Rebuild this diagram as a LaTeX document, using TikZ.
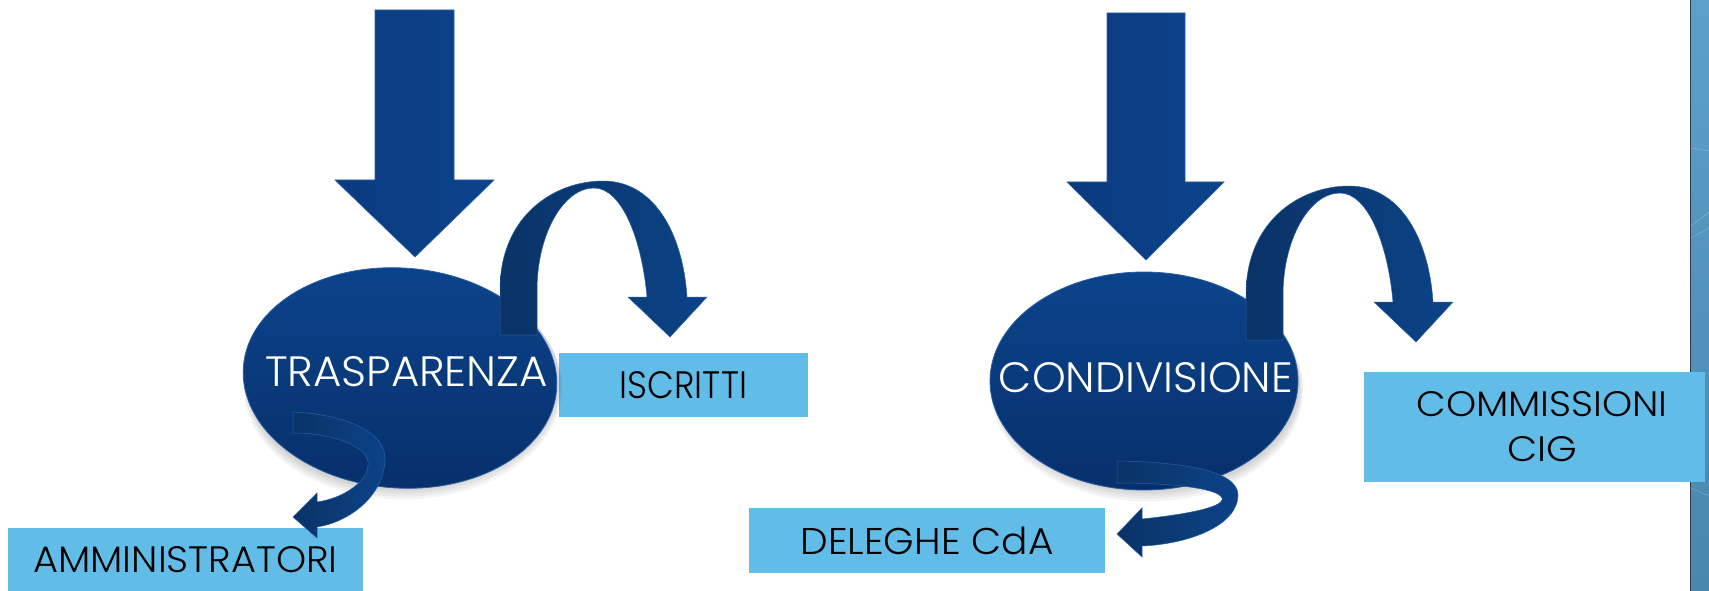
\documentclass[tikz,border=0pt]{standalone}
\usepackage{fontspec}
\setmainfont{Poppins Light}
\usetikzlibrary{shapes.geometric}
\definecolor{navy}{HTML}{0A3A7E}
\definecolor{navyD}{HTML}{07306B}
\definecolor{navyL}{HTML}{0B448C}
\definecolor{ribD}{HTML}{0A3366}
\definecolor{ribL}{HTML}{0B4387}
\definecolor{boxblue}{HTML}{62BCE8}
\definecolor{rim}{HTML}{2A5EA6}
\definecolor{strip}{HTML}{5CA0CA}
\definecolor{stripD}{HTML}{4A86AD}
\definecolor{stripline}{HTML}{2E3A46}
\newcommand{\fittxt}[3]{\resizebox{#1pt}{#2pt}{#3}}
\tikzset{
  oval/.style={ellipse, inner sep=0, top color=navyL, bottom color=navyD, draw=rim, line width=0.8pt},
  ovaltext/.style={text=white, inner sep=0},
  lbox/.style={rectangle, fill=boxblue, inner sep=0, text=black},
  bigarrow/.style={left color=navy, right color=navyL, draw=rim, line width=0.6pt},
  ribbon/.style={left color=ribD, right color=ribL, draw=rim, line width=0.5pt},
  softshadow/.style={fill=black, opacity=0.045},
  pics/uarc/.style={code={
    \path[ribbon] (500,335) -- (500,290) .. controls (500,215) and (555,181) .. (603,181)
      .. controls (655,181) and (683,235) .. (687,297) -- (707,297) -- (670,337) -- (628,297) -- (647,297)
      .. controls (642,240) and (622,188) .. (594,188) .. controls (563,188) and (537,235) .. (537,290)
      -- (537,335) -- cycle;
  }}
}
\begin{document}
\begin{tikzpicture}[x=1pt,y=-1pt]
\useasboundingbox (0,0) rectangle (1709,591);
% right strip
\fill[top color=strip, bottom color=stripD] (1690,0) rectangle (1709,591);
\draw[stripline, line width=1.5pt] (1690.5,0) -- (1690.5,591);
\draw[white, opacity=0.25, line width=0.6pt] (1691,148) -- (1709,151);
\draw[white, opacity=0.25, line width=0.6pt] (1691,226) -- (1709,212);
\draw[white, opacity=0.2, line width=0.6pt] (1691,238) -- (1709,228);
\draw[white, opacity=0.2, line width=0.6pt] (1691,488) -- (1709,496);
% boxes
\node[lbox, minimum width=249pt, minimum height=64pt] (b1) at (683.5,385) {\fittxt{127}{27}{ISCRITTI}};
\node[lbox, minimum width=355pt, minimum height=63pt] (b2) at (185.5,559.5) {\fittxt{304}{26}{AMMINISTRATORI}};
\node[lbox, minimum width=356pt, minimum height=65pt] (b3) at (927,540.5) {\fittxt{253}{27.5}{DELEGHE CdA}};
\node[lbox, minimum width=341pt, minimum height=110pt] (b4) at (1534.5,427) {};
\node[inner sep=0, align=center, font=\fontsize{30}{45}\selectfont] (t4) at (1542,427)
  {\fittxt{251}{25}{COMMISSIONI}\\\fittxt{70}{25}{CIG}};
% soft shadows
\foreach \s in {3,6,9,12}{
  \fill[softshadow] (403,380+\s*0.6) ellipse [x radius=155+\s*0.35, y radius=108+\s*0.35];
  \fill[softshadow] (1147,383+\s*0.6) ellipse [x radius=152+\s*0.35, y radius=107+\s*0.35];
}
% ellipses
\node[oval, minimum width=314pt, minimum height=220pt, rotate=-4] (e1) at (400,378) {};
\node[ovaltext] (t1) at (406.5,372) {\fittxt{283}{30}{TRASPARENZA}};
\node[oval, minimum width=308pt, minimum height=218pt] (e2) at (1144,381) {};
\node[ovaltext] (t2) at (1146,378) {\fittxt{294}{30}{CONDIVISIONE}};
% down arrows
\path[bigarrow] (375,10) -- (454,10) -- (454,180) -- (494,180) -- (415,257) -- (335,180) -- (375,180) -- cycle;
\path[bigarrow] (1107,13) -- (1185,13) -- (1185,182) -- (1224,182) -- (1146,260) -- (1067,182) -- (1107,182) -- cycle;
% upper curved arrows
\pic {uarc};
\pic[shift={(746,5)}] {uarc};
% lower curved arrows
\path[ribbon] (293,412) .. controls (340,414) and (385,430) .. (385,458)
  .. controls (385,495) and (350,522) .. (317,527) -- (317,538) -- (293,517) -- (317,493) -- (317,502)
  .. controls (345,498) and (370,480) .. (368,462) .. controls (366,445) and (330,433) .. (293,433) -- cycle;
\path[ribbon] (1117,461) .. controls (1180,462) and (1238,470) .. (1238,495)
  .. controls (1238,525) and (1190,544) .. (1142,546) -- (1142,557) -- (1117,534) -- (1142,508) -- (1142,519)
  .. controls (1180,515) and (1225,508) .. (1222,498) .. controls (1218,488) and (1170,483) .. (1117,483) -- cycle;
\end{tikzpicture}
\end{document}
